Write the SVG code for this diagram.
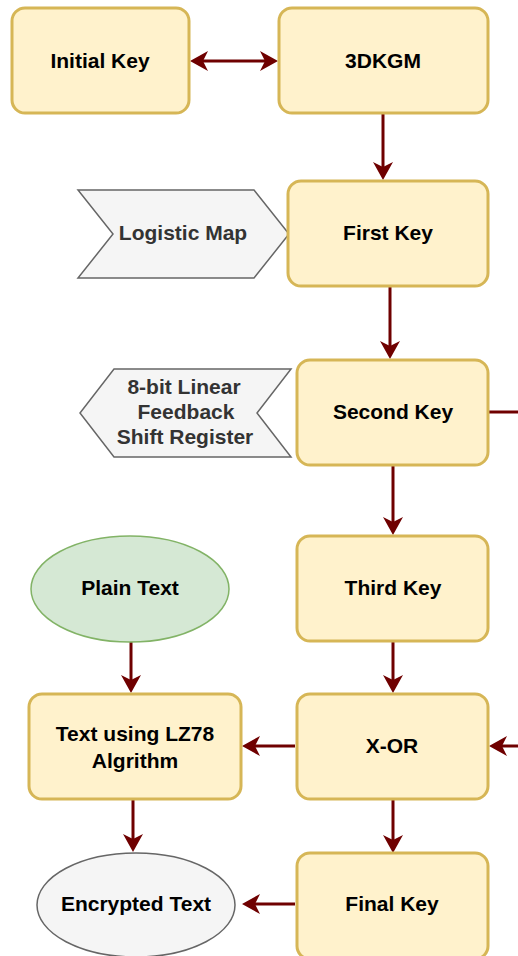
<svg xmlns="http://www.w3.org/2000/svg" width="518" height="956" viewBox="0 0 518 956">
<style>
.box{fill:#fff2cc;stroke:#d6b656;stroke-width:3}
.grey{fill:#f5f5f5;stroke:#666666;stroke-width:1.5}
.green{fill:#d5e8d4;stroke:#82b366;stroke-width:1.5}
.t{font-family:"Liberation Sans",Arial,sans-serif;font-weight:bold;font-size:21px;text-anchor:middle;fill:#000}
.tg{fill:#333333}
.c{stroke:#6f0000;stroke-width:3;fill:none}
</style>
<defs>
<marker id="ah" viewBox="0 0 20 22" markerWidth="20" markerHeight="22" refX="12" refY="11" orient="auto-start-reverse" markerUnits="userSpaceOnUse">
<path d="M0,1 L18,11 L0,21 L5,11 Z" fill="#6f0000"/>
</marker>
</defs>
<g id="connectors">
<line class="c" x1="196" y1="61" x2="272" y2="61" marker-start="url(#ah)" marker-end="url(#ah)"/>
<line class="c" x1="383" y1="113" x2="383" y2="174" marker-end="url(#ah)"/>
<line class="c" x1="390" y1="287" x2="390" y2="353" marker-end="url(#ah)"/>
<line class="c" x1="488" y1="412" x2="518" y2="412"/>
<line class="c" x1="393" y1="465" x2="393" y2="529" marker-end="url(#ah)"/>
<line class="c" x1="131" y1="642" x2="131" y2="687" marker-end="url(#ah)"/>
<line class="c" x1="393" y1="641" x2="393" y2="687" marker-end="url(#ah)"/>
<line class="c" x1="295" y1="746" x2="248" y2="746" marker-end="url(#ah)"/>
<line class="c" x1="518" y1="746" x2="495" y2="746" marker-end="url(#ah)"/>
<line class="c" x1="133" y1="800" x2="133" y2="846" marker-end="url(#ah)"/>
<line class="c" x1="393" y1="799" x2="393" y2="847" marker-end="url(#ah)"/>
<line class="c" x1="295" y1="904" x2="248" y2="904" marker-end="url(#ah)"/>
</g>
<g id="initial-key">
<rect class="box" x="12" y="8" width="177" height="105" rx="13"/>
<text class="t" x="100" y="68">Initial Key</text>
</g>
<g id="3dkgm">
<rect class="box" x="279" y="8" width="209" height="105" rx="13"/>
<text class="t" x="383" y="68">3DKGM</text>
</g>
<g id="logistic-map">
<polygon class="grey" points="78,190 254,190 289,234 254,278 78,278 113,234"/>
<text class="t tg" x="183" y="240">Logistic Map</text>
</g>
<g id="first-key">
<rect class="box" x="288" y="181" width="200" height="105" rx="13"/>
<text class="t" x="388" y="240">First Key</text>
</g>
<g id="lfsr">
<polygon class="grey" points="114,369 291,369 257,413 291,457 114,457 80,413"/>
<text class="t tg" x="184" y="394">8-bit Linear</text>
<text class="t tg" x="186" y="419">Feedback</text>
<text class="t tg" x="185" y="444">Shift Register</text>
</g>
<g id="second-key">
<rect class="box" x="297" y="360" width="191" height="105" rx="13"/>
<text class="t" x="393" y="419">Second Key</text>
</g>
<g id="plain-text">
<ellipse class="green" cx="130" cy="589" rx="99" ry="53"/>
<text class="t" x="130" y="595">Plain Text</text>
</g>
<g id="third-key">
<rect class="box" x="297" y="536" width="191" height="105" rx="13"/>
<text class="t" x="393" y="595">Third Key</text>
</g>
<g id="lz78">
<rect class="box" x="29" y="694" width="212" height="105" rx="13"/>
<text class="t" x="135" y="741">Text using LZ78</text>
<text class="t" x="135" y="768">Algrithm</text>
</g>
<g id="xor">
<rect class="box" x="297" y="694" width="191" height="105" rx="13"/>
<text class="t" x="392" y="753">X-OR</text>
</g>
<g id="encrypted-text">
<ellipse class="grey" cx="136" cy="905" rx="99" ry="52"/>
<text class="t" x="136" y="911">Encrypted Text</text>
</g>
<g id="final-key">
<rect class="box" x="297" y="853" width="191" height="106" rx="13"/>
<text class="t" x="392" y="911">Final Key</text>
</g>
</svg>
